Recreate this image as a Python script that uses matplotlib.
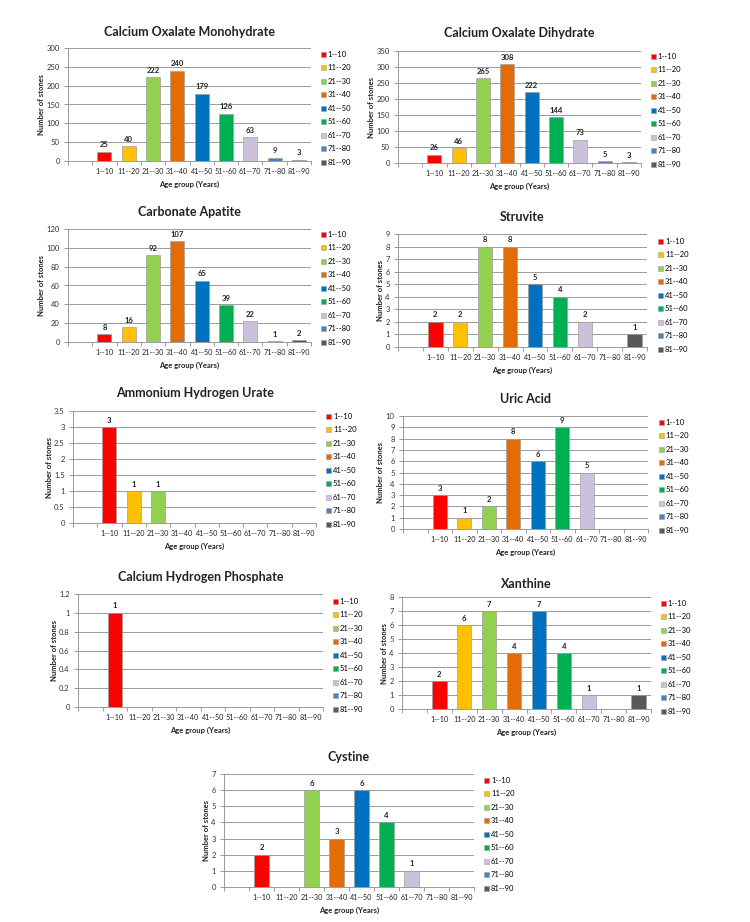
import matplotlib
matplotlib.use("Agg")
import matplotlib.pyplot as plt
from matplotlib.patches import Patch

plt.rcParams['font.family'] = ['Lato', 'DejaVu Sans']

age_groups = ['1--10', '11--20', '21--30', '31--40', '41--50', '51--60', '61--70', '71--80', '81--90']
colors = ['#FF0000', '#FFC000', '#92D050', '#E36C09', '#0070C0', '#00B050', '#CCC0DA', '#4F81BD', '#595959']

# counts per age group (None = no bar)
ca_ox_mono = [25, 40, 222, 240, 179, 126, 63, 9, 3]
ca_ox_di = [26, 46, 265, 308, 222, 144, 73, 5, 3]
carb_apatite = [8, 16, 92, 107, 65, 39, 22, 1, 2]
struvite = [2, 2, 8, 8, 5, 4, 2, None, 1]
amm_urate = [3, 1, 1, None, None, None, None, None, None]
uric_acid = [3, 1, 2, 8, 6, 9, 5, None, None]
ca_h_phos = [1, None, None, None, None, None, None, None, None]
xanthine = [2, 6, 7, 4, 7, 4, 1, None, 1]
cystine = [2, None, 6, 3, 6, 4, 1, None, None]

titles = ['Calcium Oxalate Monohydrate', 'Calcium Oxalate Dihydrate', 'Carbonate Apatite', 'Struvite',
          'Ammonium Hydrogen Urate', 'Uric Acid', 'Calcium Hydrogen Phosphate', 'Xanthine', 'Cystine']
series = [ca_ox_mono, ca_ox_di, carb_apatite, struvite, amm_urate, uric_acid, ca_h_phos, xanthine, cystine]
ymax = [300, 350, 120, 9, 3.5, 10, 1.2, 8, 7]
ystep = [50, 50, 20, 1, 0.5, 1, 0.2, 1, 1]

# pixel boxes: left, right, top, bottom of plot area; legend x, legend top
W, H = 750, 922
boxes = [(68, 311, 48, 161, 321, 51), (398, 641, 51, 163, 651, 53),
         (68, 311, 229, 342, 321, 231), (398, 647, 234, 347, 658, 238),
         (73, 316, 411, 523, 326, 413), (403, 648, 416, 529, 659, 419),
         (78, 323, 594, 707, 333, 598), (402, 651, 597, 709, 661, 600),
         (224, 474, 774, 887, 484, 777)]
title_y = [32, 33, 212, 217, 393, 399, 577, 584, 757]

fig = plt.figure(figsize=(7.5, 9.22), dpi=100)
grid_col = '#8C8C8C'

for k in range(9):
    l, r, t, b, lx, ly = boxes[k]
    ax = fig.add_axes([l / W, 1 - b / H, (r - l) / W, (b - t) / H])
    vals = series[k]
    for i, v in enumerate(vals):
        if v is None:
            continue
        ax.bar(i + 1.5, v, width=0.58, color=colors[i], edgecolor='#A0A0A0', linewidth=0.5, zorder=3)
        ax.text(i + 1.5, v + ymax[k] * 0.03, str(v), ha='center', va='bottom',
                fontsize=5.5, fontweight='bold', color='#222222')
    ax.set_xlim(0, 10)
    ax.set_ylim(0, ymax[k])
    n = int(round(ymax[k] / ystep[k]))
    yt = [round(j * ystep[k], 2) for j in range(n + 1)]
    ax.set_yticks(yt)
    ax.set_yticklabels(['%g' % y for y in yt])
    ax.set_xticks(range(11))
    ax.set_xticklabels([])
    ax.set_xticks([i + 1.5 for i in range(9)], minor=True)
    ax.set_xticklabels(age_groups, minor=True)
    ax.tick_params(axis='x', which='minor', length=0, labelsize=5.2, pad=5, labelcolor='#222222')
    ax.tick_params(axis='x', which='major', length=3, color=grid_col, width=0.6)
    ax.tick_params(axis='y', length=3, color=grid_col, width=0.6, labelsize=5.5, labelcolor='#333333', pad=3)
    ax.yaxis.grid(True, color=grid_col, linewidth=0.6, zorder=0)
    ax.set_axisbelow(True)
    for s in ['top', 'right']:
        ax.spines[s].set_visible(False)
    for s in ['left', 'bottom']:
        ax.spines[s].set_color(grid_col)
        ax.spines[s].set_linewidth(0.6)
    ax.set_xlabel('Age group (Years)', fontsize=5.5, fontweight='bold', labelpad=4, color='#222222')
    ax.set_ylabel('Number of stones', fontsize=5.5, fontweight='bold', labelpad=1, color='#222222')
    fig.text((l + r) / 2 / W, 1 - title_y[k] / H, titles[k], ha='center', va='center',
             fontsize=9, fontweight='bold', color='#222222')
    handles = [Patch(facecolor=colors[i], edgecolor='#A0A0A0', linewidth=0.4) for i in range(9)]
    fig.legend(handles, age_groups, loc='upper left', bbox_to_anchor=(lx / W, 1 - ly / H),
               frameon=False, fontsize=5.5, handlelength=0.7, handleheight=0.7,
               handletextpad=0.2, labelspacing=0.85, borderpad=0, borderaxespad=0)

plt.savefig('out.png', dpi=100)
